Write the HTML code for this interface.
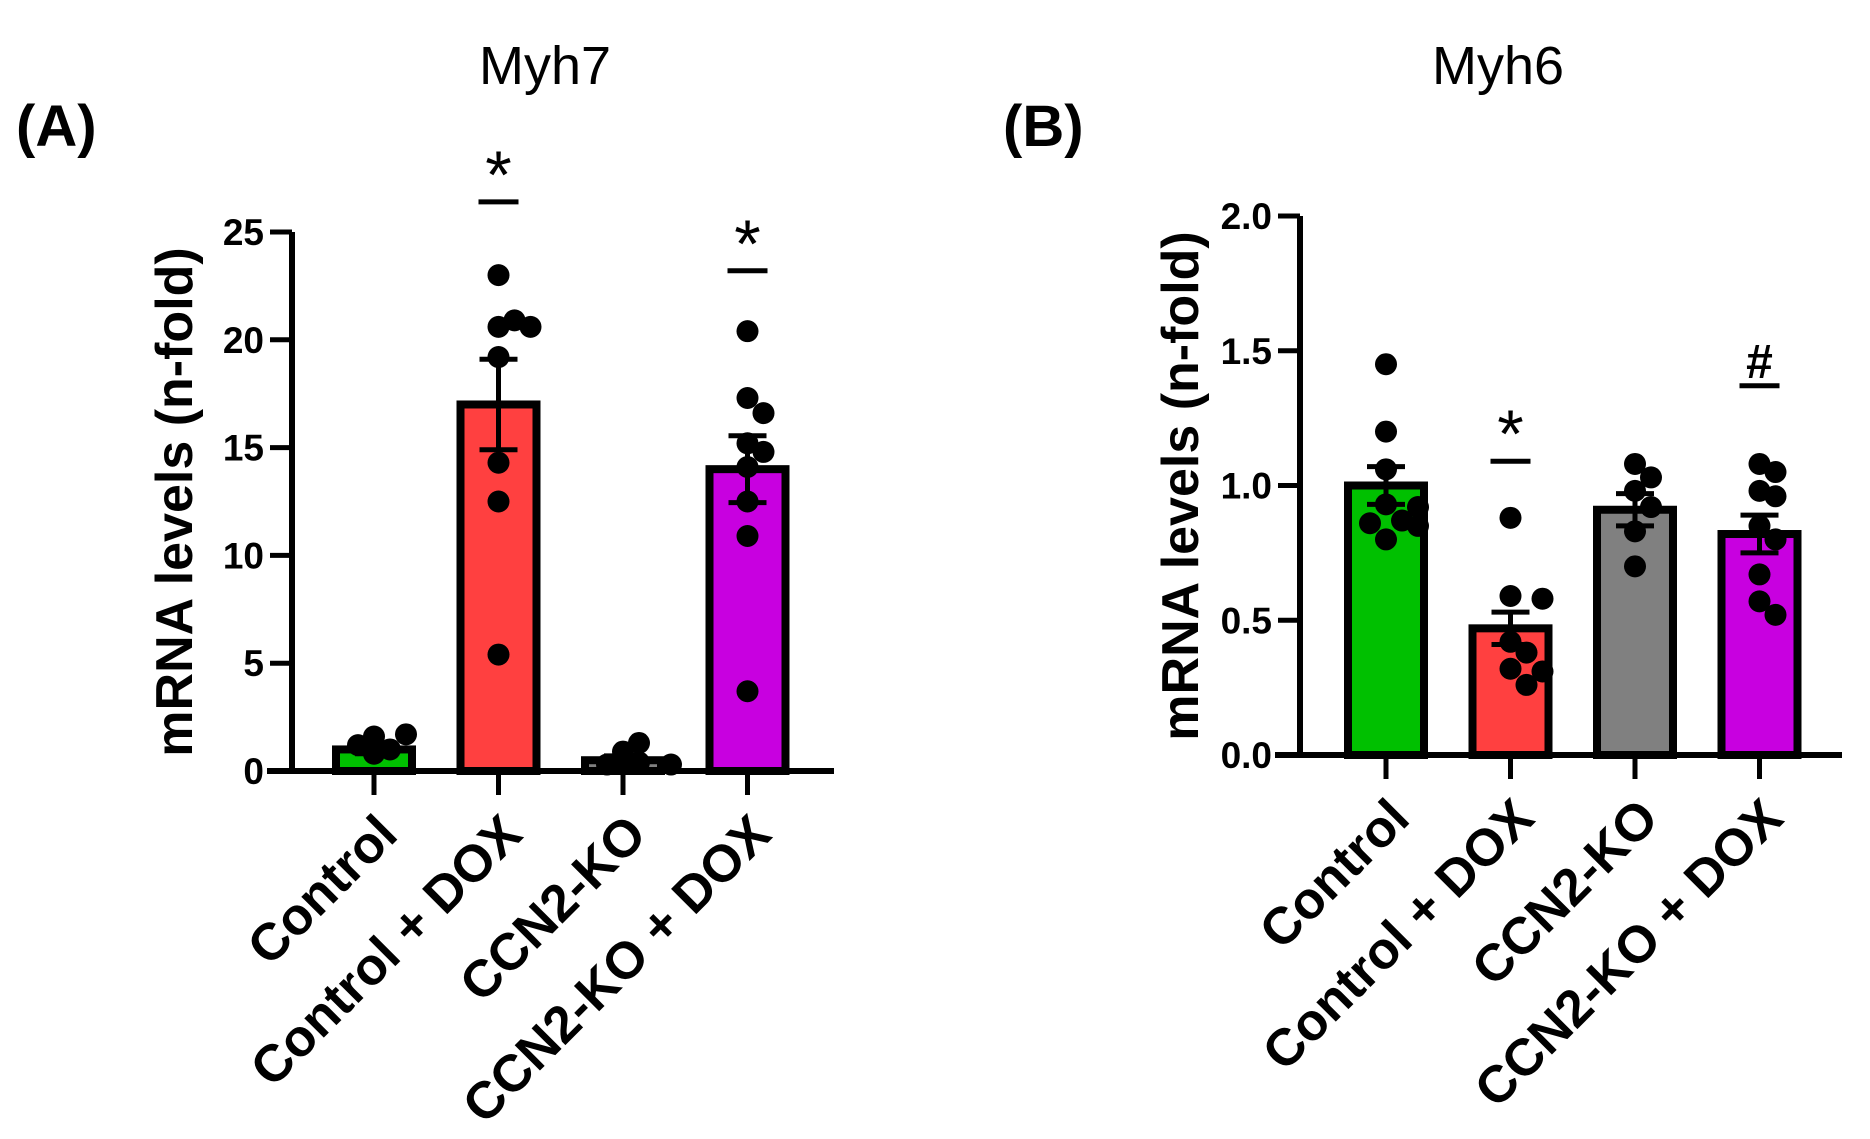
<!DOCTYPE html>
<html><head><meta charset="utf-8">
<style>
html,body{margin:0;padding:0;background:#fff;}
svg{display:block;font-family:"Liberation Sans",sans-serif;}
</style></head>
<body>
<svg id="fig" width="1870" height="1139" viewBox="0 0 1870 1139" xmlns="http://www.w3.org/2000/svg"></svg>
<script>
const categories = ["Control", "Control + DOX", "CCN2-KO", "CCN2-KO + DOX"];
const colors = ["#00c000", "#ff4040", "#808080", "#c800e0"];
// Panel A (Myh7)
const myh7Means = [1.0, 17.0, 0.5, 14.0];
const myh7Sem = [0.2, 2.1, 0.2, 1.55];
const myh7Points = [
  [0.8, 1.0, 1.2, 1.6, 1.7],
  [23.0, 20.6, 20.9, 20.6, 19.2, 14.3, 12.5, 5.4],
  [0.9, 1.3, 0.4, 0.3, 0.3],
  [20.4, 17.3, 16.6, 15.2, 14.8, 14.1, 12.5, 10.9, 3.7]
];
const myh7Ticks = [0, 5, 10, 15, 20, 25];
const myh7Sig = ["", "*", "", "*"];
const myh7SigLevel = [0, 26.4, 0, 23.2];
// Panel B (Myh6)
const myh6Means = [1.0, 0.47, 0.91, 0.82];
const myh6Sem = [0.07, 0.06, 0.06, 0.07];
const myh6Points = [
  [1.45, 1.20, 1.06, 0.93, 0.92, 0.87, 0.86, 0.85, 0.80],
  [0.88, 0.59, 0.58, 0.42, 0.38, 0.32, 0.31, 0.26],
  [1.08, 1.03, 0.98, 0.92, 0.83, 0.70],
  [1.08, 1.05, 0.98, 0.96, 0.85, 0.80, 0.67, 0.57, 0.52]
];
const myh6Ticks = ["0.0", "0.5", "1.0", "1.5", "2.0"];
const myh6Sig = ["", "*", "", "#"];
const myh6SigLevel = [0, 1.09, 0, 1.37];

const NS = "http://www.w3.org/2000/svg";
const svg = document.getElementById("fig");
function mk(tag, attrs, parent) {
  const e = document.createElementNS(NS, tag);
  for (const k in attrs) e.setAttribute(k, attrs[k]);
  (parent || svg).appendChild(e);
  return e;
}

function panel(cfg) {
  const g = mk("g", {});
  
  
  const y = v => cfg.y0 - (v - cfg.min) / (cfg.max - cfg.min) * (cfg.y0 - cfg.yTop);
  const x = i => cfg.x0 + cfg.first + i * cfg.step;
  const t = mk("text", {x: cfg.titleX, y: 84, "font-size": 54, "text-anchor": "middle", fill: "#000"}, g);
  t.textContent = cfg.title;
  
  
  const pl = mk("text", {x: cfg.labelX, y: 146, "font-size": 58, "font-weight": "bold", fill: "#000"}, g);
  pl.textContent = cfg.letter;
  
  
  cfg.means.forEach((m, i) => {
    const bw = 84;
    const r = mk("rect", {x: x(i) - bw / 2 + 4, y: y(m), width: bw - 8, height: cfg.y0 - y(m), fill: colors[i], stroke: "#000", "stroke-width": 8}, g);
    
    
  });
  const rad = 11;
  cfg.points.forEach((arr, i) => {
    const placed = [];
    arr.forEach(v => {
      const py = y(v);
      let off = 0;
      const cands = [0];
      for (let k = 1; k < 8; k++) { cands.push(k * 16, -k * 16); }
      for (const c of cands) {
        if (placed.every(p => Math.hypot(p[0] - c, p[1] - py) >= 1.5 * rad)) { off = c; break; }
      }
      placed.push([off, py]);
      const c = mk("circle", {cx: x(i) + off, cy: py, r: rad, fill: "#000"}, g);
      
      
    });
  });
  cfg.means.forEach((m, i) => {
    const e = mk("path", {d: `M${x(i)},${y(m)}V${y(m + cfg.sem[i])}M${x(i) - 19},${y(m + cfg.sem[i])}H${x(i) + 19}M${x(i)},${y(m)}V${y(m - cfg.sem[i])}M${x(i) - 19},${y(m - cfg.sem[i])}H${x(i) + 19}`, stroke: "#000", "stroke-width": 5, fill: "none"}, g);
    
    
  });
  const ax = mk("path", {d: `M${cfg.x0},${cfg.yTop}V${cfg.y0}M${cfg.x0 - 25},${cfg.y0}H${cfg.xEnd}`, stroke: "#000", "stroke-width": 6, fill: "none"}, g);
  
  
  cfg.ticks.forEach(tk => {
    const v = parseFloat(tk);
    mk("line", {x1: cfg.x0 - 22, x2: cfg.x0, y1: y(v), y2: y(v), stroke: "#000", "stroke-width": 5}, g);
    const tl = mk("text", {x: cfg.x0 - 28, y: y(v) + 13, "font-size": 37, "font-weight": "bold", "text-anchor": "end", fill: "#000"}, g);
    tl.textContent = tk;
    
    
  });
  categories.forEach((c, i) => {
    mk("line", {x1: x(i), x2: x(i), y1: cfg.y0, y2: cfg.y0 + 24, stroke: "#000", "stroke-width": 5}, g);
    const lx = x(i) + 26, ly = cfg.y0 + 66;
    const tl = mk("text", {x: lx, y: ly, "font-size": 52, "font-weight": "bold", "text-anchor": "end", fill: "#000", transform: `rotate(-45 ${lx} ${ly})`}, g);
    tl.textContent = c;
    
    
  });
  const yt = mk("text", {x: cfg.ytX, y: cfg.ytY, "font-size": 52, "font-weight": "bold", "text-anchor": "middle", fill: "#000", transform: `rotate(-90 ${cfg.ytX} ${cfg.ytY})`}, g);
  yt.textContent = "mRNA levels (n-fold)";
  
  
  cfg.sig.forEach((s, i) => {
    if (!s) return;
    const dy = y(cfg.sigLevel[i]);
    mk("line", {x1: x(i) - 20, x2: x(i) + 20, y1: dy, y2: dy, stroke: "#000", "stroke-width": 5}, g);
    const st = mk("text", {x: x(i), y: s === "*" ? dy - 4 : dy - 8, "font-size": s === "*" ? 68 : 48, "font-weight": s === "*" ? "normal" : "bold", "text-anchor": "middle", fill: "#000"}, g);
    st.textContent = s;
    
    
  });
}

panel({name: "panel-a-myh7", title: "Myh7", letter: "(A)", titleX: 545, labelX: 16,
  x0: 292, y0: 771, yTop: 232, min: 0, max: 25, xEnd: 834, first: 82, step: 124.5,
  means: myh7Means, sem: myh7Sem, points: myh7Points, ticks: myh7Ticks.map(String), sig: myh7Sig, sigLevel: myh7SigLevel,
  ytX: 192, ytY: 502});
panel({name: "panel-b-myh6", title: "Myh6", letter: "(B)", titleX: 1498, labelX: 1003,
  x0: 1300, y0: 755, yTop: 216, min: 0, max: 2, xEnd: 1842, first: 86, step: 124.5,
  means: myh6Means, sem: myh6Sem, points: myh6Points, ticks: myh6Ticks, sig: myh6Sig, sigLevel: myh6SigLevel,
  ytX: 1198, ytY: 486});
</script>
</body></html>
